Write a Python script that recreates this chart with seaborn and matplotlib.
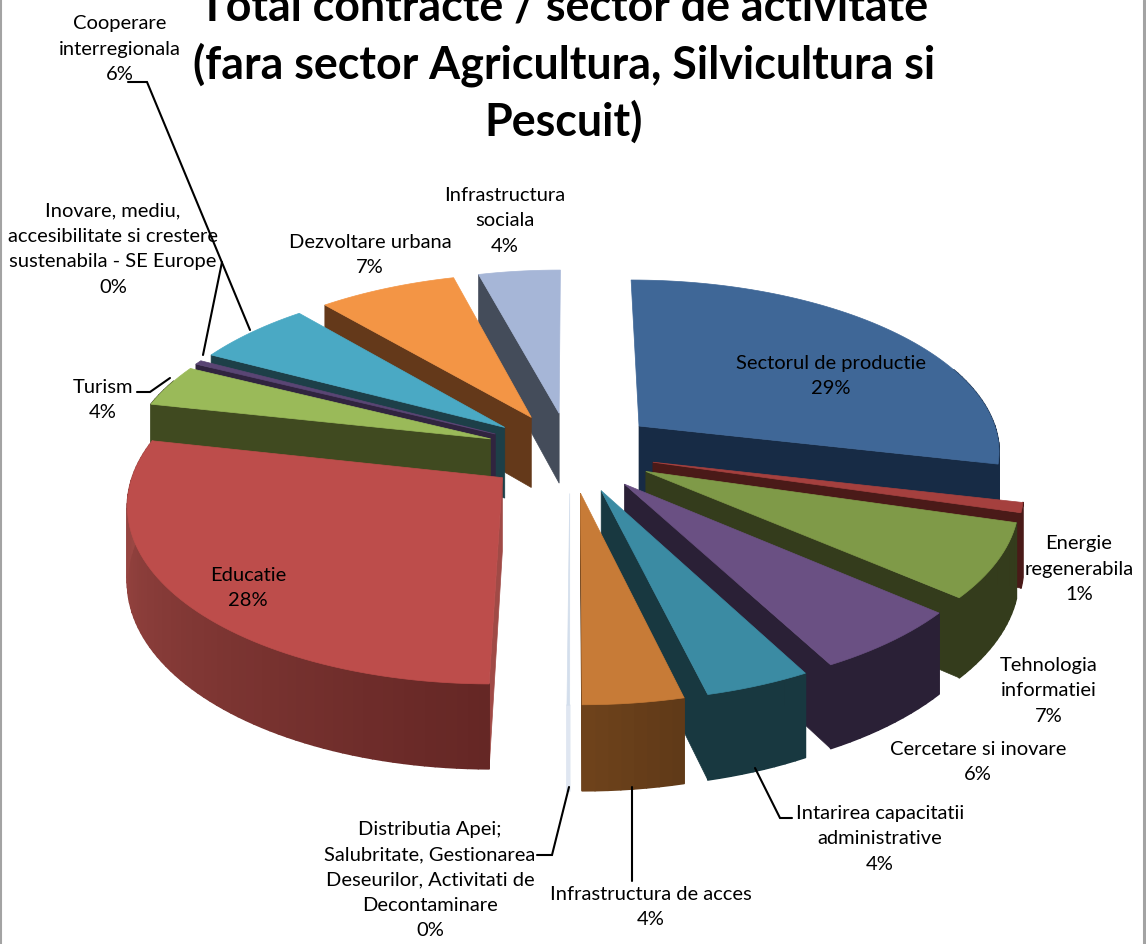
import numpy as np
import matplotlib
matplotlib.use("Agg")
import matplotlib.pyplot as plt
from matplotlib.collections import PolyCollection
import seaborn as sns

# ---- data ----
labels = ["Sectorul de productie", "Energie\nregenerabila", "Tehnologia\ninformatiei",
          "Cercetare si inovare", "Intarirea capacitatii\nadministrative",
          "Infrastructura de acces",
          "Distributia Apei;\nSalubritate, Gestionarea\nDeseurilor, Activitati de\nDecontaminare",
          "Educatie", "Turism", "Inovare, mediu,\naccesibilitate si crestere\nsustenabila - SE Europe",
          "Cooperare\ninterregionala", "Dezvoltare urbana", "Infrastructura\nsociala"]
values = [28.6, 0.9, 6.8, 5.9, 4.0, 3.8, 0.1, 28.3, 3.9, 0.4, 6.0, 7.1, 4.2]
top_colors = ["#3f6797", "#a5403e", "#7f9a48", "#6a5083", "#3b8ba3", "#c77b37", "#d3deec",
              "#bd4d4b", "#9aba59", "#5a4574", "#4aa9c4", "#f39545", "#a6b6d7"]
wall_left = ["#172b45", "#4a1a18", "#343c1c", "#2a2036", "#183840", "#6e421b", "#dfe6f1",
             "#a04a46", "#404a20", "#30243f", "#1d3f48", "#64391a", "#444c5a"]
wall_right = ["#172b45", "#4a1a18", "#343c1c", "#2a2036", "#183840", "#603a18", "#dfe6f1",
              "#652725", "#404a20", "#30243f", "#1d3f48", "#64391a", "#444c5a"]
explodes = [90, 85, 85, 85, 85, 85, 85, 85, 85, 85, 85, 85, 85]
title = "Total contracte / sector de activitate\n(fara sector Agricultura, Silvicultura si\nPescuit)"

# label anchor (centre x, centre y of block) per slice
label_pos = [(831, 376), (1079, 569), (1049, 691), (978, 762), (880, 839), (651, 907),
             (430, 880), (248, 588), (103, 400), (113, 249), (120, 49), (370, 255), (505, 221)]
leaders = [[(128, 82), (147, 82), (250, 330)],
           [(203, 355), (222, 262)],
           [(137, 392), (150, 392), (170, 378)],
           [(537, 855), (552, 855), (569, 787)],
           [(632, 787), (632, 881)],
           [(755, 768), (780, 818), (792, 818)]]

# ---- pie geometry ----
CX, CY, RADIUS, TILT, PERSP, DEPTH = 570, 452, 363, 0.473, 0.163, 72
REF = RADIUS + 85


def project(u, v, z=0.0):
    s = 1.0 / (1.0 - PERSP * v / REF)
    return CX + u * s, CY + TILT * v * s + z * DEPTH * s


sns.set_theme(style="white")
plt.rcParams["font.family"] = ["Lato", "DejaVu Sans"]
fig = plt.figure(figsize=(11.46, 9.44), dpi=100, facecolor="white")
ax = fig.add_axes([0, 0, 1, 1])
ax.set_xlim(0, 1146)
ax.set_ylim(944, 0)
ax.axis("off")

vals = np.array(values)
ends = np.cumsum(vals) / vals.sum() * 2 * np.pi
starts = np.concatenate([[0], ends[:-1]])
mids = (starts + ends) / 2
order = np.argsort(-np.cos(mids))

for z_idx, i in enumerate(order):
    a0, a1, m = starts[i], ends[i], mids[i]
    au, av = explodes[i] * np.sin(m), -explodes[i] * np.cos(m)
    th = np.linspace(a0, a1, max(int((a1 - a0) * 40), 3))
    ru, rv = au + RADIUS * np.sin(th), av - RADIUS * np.cos(th)
    tx, ty = project(ru, rv)
    bx, by = project(ru, rv, 1.0)
    apx, apy = project(au, av)
    abx, aby = project(au, av, 1.0)
    zo = 2 + z_idx
    # radial walls: only the faces turned towards the viewer
    if np.sin(a1) > 0:
        ax.fill([apx, tx[-1], bx[-1], abx], [apy, ty[-1], by[-1], aby],
                fc=wall_right[i], ec=wall_right[i], lw=0.5, zorder=zo)
    if np.sin(a0) < 0:
        ax.fill([apx, tx[0], bx[0], abx], [apy, ty[0], by[0], aby],
                fc=wall_left[i], ec=wall_left[i], lw=0.5, zorder=zo)
    # outer wall, shaded along the arc (dark at the start of the arc); only the
    # part at the front of the pie can be seen
    front = np.cos(th[:-1] + (th[1] - th[0]) / 2) < 0.35
    grad = sns.blend_palette([wall_left[i], wall_right[i]], n_colors=len(th) - 1)[::-1]
    quads = [[(tx[k], ty[k]), (tx[k + 1], ty[k + 1]), (bx[k + 1], by[k + 1]), (bx[k], by[k])]
             for k in range(len(th) - 1) if front[k]]
    colors = [c for c, f in zip(grad, front) if f]
    if quads:
        ax.add_collection(PolyCollection(quads, facecolors=colors, edgecolors=colors,
                                         linewidths=1.2, zorder=zo))
    # top face
    ax.fill(np.r_[apx, tx], np.r_[apy, ty], fc=top_colors[i], ec=top_colors[i], lw=0.5, zorder=zo + 0.5)

for pts in leaders:
    xs, ys = zip(*pts)
    ax.plot(xs, ys, color="black", lw=1.5, zorder=40, solid_joinstyle="miter")

total = vals.sum()
for name, v, (x, y) in zip(labels, values, label_pos):
    ax.text(x, y, f"{name}\n{round(v / total * 100)}%", ha="center", va="center",
            fontsize=14.5, color="black", linespacing=1.6, zorder=50)

ax.text(564, 65, title, ha="center", va="center", fontsize=32.2, fontweight="bold",
        color="black", linespacing=1.38, zorder=50)

for xx, lw in ((0.5, 1.5), (1143.5, 2.2)):
    ax.plot([xx, xx], [0, 944], color="#a3a3a3", lw=lw, zorder=60)

fig.savefig("out.png", dpi=100, facecolor="white")
